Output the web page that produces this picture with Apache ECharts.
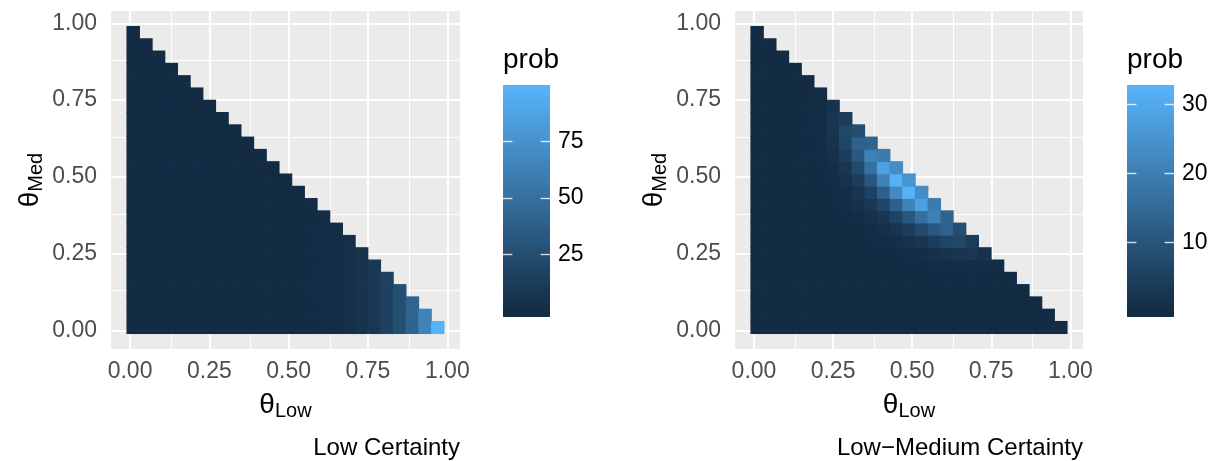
<!DOCTYPE html>
<html><head><meta charset="utf-8">
<script src="https://cdn.jsdelivr.net/npm/echarts@6/dist/echarts.min.js"></script>
<style>html,body{margin:0;padding:0;background:#fff}#c{width:1223px;height:461px}</style>
</head><body><div id="c"></div>
<script>
// ---- data ----
const thetaGrid = [0.01,0.05,0.09,0.13,0.17,0.21,0.25,0.29,0.33,0.37,0.41,0.45,0.49,0.53,0.57,0.61,0.65,0.69,0.73,0.77,0.81,0.85,0.89,0.93,0.97];
const axisTicks = [0, 0.25, 0.5, 0.75, 1];
const axisTickLabels = ['0.00','0.25','0.50','0.75','1.00'];
const minorGrid = [0.125, 0.375, 0.625, 0.875];
// Low certainty: colour depends only on theta_Low column
const lowProbByThetaLow = [0,0,0,0,0,0,0,0,0,0,0,0,0.1,0.2,0.5,0.9,1.8,3.2,5.7,9.7,16.0,26.0,41.2,63.9,97.3];
// Low-Medium certainty: row j = theta_Med index, entries = theta_Low index 0..24-j
const lowMedProbRows = [
  [0,0,0,0,0,0,0,0,0,0,0,0,0,0,0,0,0,0,0,0,0,0,0,0,0],
  [0,0,0,0,0,0,0,0,0,0,0,0,0,0,0,0,0,0,0,0,0,0,0,0],
  [0,0,0,0,0,0,0,0,0,0,0,0,0,0,0,0,0,0,0,0,0,0,0],
  [0,0,0,0,0,0,0,0,0,0,0,0,0,0,0,0,0,0,0,0,0,0],
  [0,0,0,0,0,0,0,0,0,0,0,0,0,0,0,0.1,0.1,0.1,0.2,0.2,0.1],
  [0,0,0,0,0,0,0,0,0,0,0,0,0.1,0.2,0.3,0.4,0.6,0.8,0.8,0.5],
  [0,0,0,0,0,0,0,0,0,0,0.1,0.2,0.4,0.7,1.2,1.9,2.5,2.8,1.6],
  [0,0,0,0,0,0,0,0,0,0.1,0.3,0.7,1.5,2.6,4.2,5.9,6.7,4.0],
  [0,0,0,0,0,0,0,0,0.2,0.4,1.1,2.3,4.3,7.3,10.8,12.8,8.1],
  [0,0,0,0,0,0,0,0.1,0.4,1.2,2.8,5.8,10.5,16.5,20.5,13.5],
  [0,0,0,0,0,0,0.1,0.3,1.1,2.8,6.4,12.6,21.0,27.7,19.1],
  [0,0,0,0,0,0,0.2,0.7,2.3,5.8,12.6,22.8,32.0,23.4],
  [0,0,0,0,0,0.1,0.4,1.5,4.3,10.5,21.0,32.0,25.0],
  [0,0,0,0,0,0.2,0.7,2.6,7.3,16.5,27.7,23.4],
  [0,0,0,0,0,0.3,1.2,4.2,10.8,20.5,19.1],
  [0,0,0,0,0.1,0.4,1.9,5.9,12.8,13.5],
  [0,0,0,0,0.1,0.6,2.5,6.7,8.1],
  [0,0,0,0,0.1,0.8,2.8,4.0],
  [0,0,0,0,0.2,0.8,1.6],
  [0,0,0,0,0.2,0.5],
  [0,0,0,0,0.1],
  [0,0,0,0],
  [0,0,0],
  [0,0],
  [0]
];
const lowLegendTicks = [25, 50, 75];
const lowMedLegendTicks = [10, 20, 30];
const legendTitle = 'prob';
const captions = ['Low Certainty', 'Low\u2212Medium Certainty'];
const xTitle = ['\u03B8', 'Low'];
const yTitle = ['\u03B8', 'Med'];

// ---- build ----
const lowData = [];
thetaGrid.forEach((yv, j) => {
  for (let i = 0; i < thetaGrid.length - j; i++) lowData.push([thetaGrid[i], yv, lowProbByThetaLow[i]]);
});
const lowMedData = [];
lowMedProbRows.forEach((row, j) => row.forEach((v, i) => lowMedData.push([thetaGrid[i], thetaGrid[j], v])));
const panelData = [lowData, lowMedData];

const FONT = '"Liberation Sans", Arial, Helvetica, sans-serif';
const LOWC = '#132B43', HIGHC = '#56B1F7';
const half = (thetaGrid[1] - thetaGrid[0]) / 2;

const panels = [{left: 111, width: 349}, {left: 735, width: 348}];
const panelTop = 11, panelH = 338;
const bars = [{left: 503}, {left: 1127}];
const barTop = 85, barW = 47, barH = 232;

function range(vals) {
  const mn = Math.min(...vals), mx = Math.max(...vals);
  const pad = (mx - mn) / 38;
  return {mn, mx, lo: mn - pad, hi: mx + pad};
}
const ranges = panelData.map(d => range(d.map(r => r[2])));
const legendTicks = [lowLegendTicks, lowMedLegendTicks];

const richTitle = {
  t: {fontSize: 28, fontFamily: FONT, color: '#000'},
  s: {fontSize: 20, fontFamily: FONT, color: '#000', padding: [12, 0, 0, 0]}
};

function renderCell(params, api) {
  const x = api.value(0), y = api.value(1);
  const p0 = api.coord([x - half, y + half]);
  const p1 = api.coord([x + half, y - half]);
  const c = api.visual('color');
  return {type: 'rect', shape: {x: p0[0] - 0.4, y: p0[1] - 0.4, width: p1[0] - p0[0] + 0.8, height: p1[1] - p0[1] + 0.8},
    style: {fill: c}};
}

const grid = [], xAxis = [], yAxis = [], series = [], visualMap = [], graphic = [];

// panels: grid 0/1, xAxis 0/1, yAxis 0/1
panels.forEach((p, k) => {
  grid.push({left: p.left, top: panelTop, width: p.width, height: panelH, show: true, backgroundColor: '#EBEBEB', borderWidth: 0});
  const common = {
    type: 'value', gridIndex: k, min: -0.06, max: 1.04,
    axisLine: {show: false}, splitLine: {show: false},
    axisTick: {show: true, customValues: axisTicks, length: 7, lineStyle: {color: '#333333', width: 1.6}},
    axisLabel: {customValues: axisTicks, formatter: v => axisTickLabels[axisTicks.indexOf(v)] ?? String(v),
      color: '#4D4D4D', fontSize: 23, fontFamily: FONT},
    nameLocation: 'middle', nameTextStyle: {rich: richTitle}
  };
  xAxis.push(Object.assign({}, common, {axisLabel: Object.assign({}, common.axisLabel, {margin: 11}),
    name: '{t|' + xTitle[0] + '}{s|' + xTitle[1] + '}', nameGap: 40}));
  yAxis.push(Object.assign({}, common, {axisLabel: Object.assign({}, common.axisLabel, {margin: 14}),
    name: '{t|' + yTitle[0] + '}{s|' + yTitle[1] + '}', nameGap: 65, nameRotate: 90}));
  const ml = [];
  axisTicks.forEach(v => { ml.push({xAxis: v, lineStyle: {width: 2.1}}); ml.push({yAxis: v, lineStyle: {width: 2.1}}); });
  minorGrid.forEach(v => { ml.push({xAxis: v, lineStyle: {width: 1.05}}); ml.push({yAxis: v, lineStyle: {width: 1.05}}); });
  series.push({type: 'line', xAxisIndex: k, yAxisIndex: k, data: [], z: 1, silent: true,
    markLine: {silent: true, z: 1, symbol: ['none', 'none'], label: {show: false}, animation: false,
      lineStyle: {color: '#FFFFFF', type: 'solid'}, data: ml}});
  series.push({type: 'custom', xAxisIndex: k, yAxisIndex: k, data: panelData[k],
    encode: {x: 0, y: 1}, renderItem: renderCell, z: 3, silent: true});
  visualMap.push({type: 'continuous', show: false, seriesIndex: series.length - 1, dimension: 2,
    min: ranges[k].mn, max: ranges[k].mx, inRange: {color: [LOWC, HIGHC]}});
  graphic.push({type: 'text', x: p.left + p.width, y: 448, style: {text: captions[k], fontSize: 24, fontFamily: FONT, fill: '#000', textAlign: 'right', textVerticalAlign: 'middle'}});
});

// colour bars: grid 2/3, xAxis 2/3, yAxis 2/3
bars.forEach((b, k) => {
  const r = ranges[k];
  const gi = grid.length;
  grid.push({left: b.left, top: barTop, width: barW, height: barH, show: false});
  xAxis.push({type: 'value', gridIndex: gi, show: false, min: 0, max: 1});
  yAxis.push({type: 'value', gridIndex: gi, position: 'right', min: r.lo, max: r.hi, z: 10,
    axisLine: {show: false}, splitLine: {show: false}, axisTick: {show: false},
    axisLabel: {customValues: legendTicks[k], color: '#000', fontSize: 23, fontFamily: FONT, margin: 8}});
  const tickData = [];
  legendTicks[k].forEach(v => {
    tickData.push([{coord: [0, v]}, {coord: [0.2, v]}]);
    tickData.push([{coord: [0.8, v]}, {coord: [1, v]}]);
  });
  series.push({type: 'line', xAxisIndex: gi, yAxisIndex: gi, data: [], z: 10, silent: true,
    markLine: {silent: true, z: 10, symbol: ['none', 'none'], label: {show: false}, animation: false,
      lineStyle: {color: '#FFFFFF', type: 'solid', width: 1.4, opacity: 0.8}, data: tickData}});
  const f = 0.5 / 20;
  graphic.push({type: 'rect', left: b.left, top: barTop, z: -5, shape: {width: barW, height: barH},
    style: {fill: new echarts.graphic.LinearGradient(0, 0, 0, 1, [
      {offset: 0, color: HIGHC}, {offset: f, color: HIGHC}, {offset: 1 - f, color: LOWC}, {offset: 1, color: LOWC}])}});
  graphic.push({type: 'text', left: b.left, top: 46, style: {text: legendTitle, fontSize: 28, fontFamily: FONT, fill: '#000'}});
});

const chart = echarts.init(document.getElementById('c'), null, {renderer: 'canvas'});
chart.setOption({animation: false, backgroundColor: '#FFFFFF', grid, xAxis, yAxis, series, visualMap, graphic});
</script></body></html>
